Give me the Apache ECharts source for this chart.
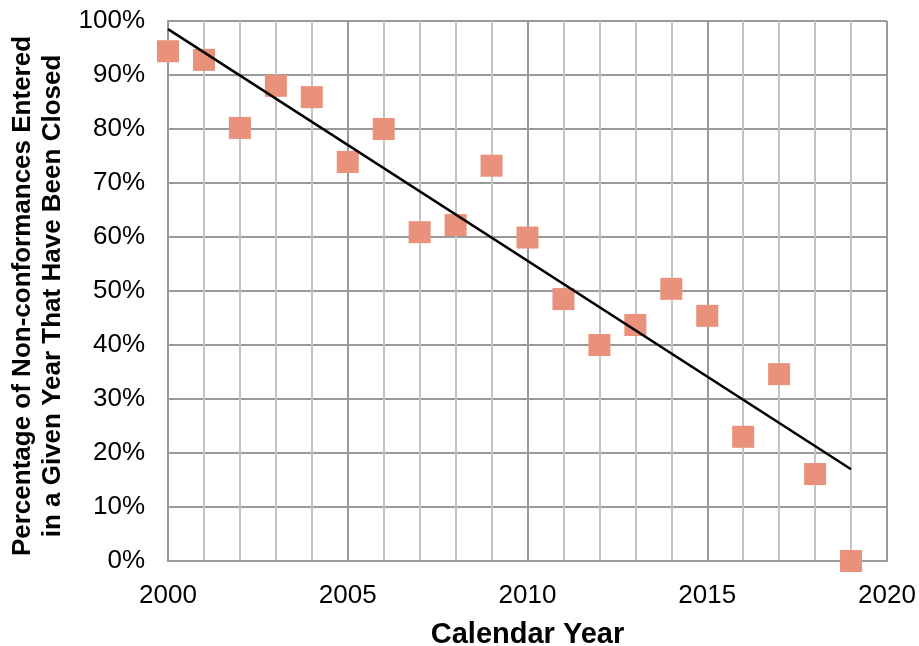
<!DOCTYPE html>
<html>
<head>
<meta charset="utf-8">
<script src="https://cdn.jsdelivr.net/npm/echarts@6/dist/echarts.min.js"></script>
<style>
  html, body { margin: 0; padding: 0; background: #fff; }
  #main { width: 919px; height: 646px; }
</style>
</head>
<body>
<div id="main"></div>
<script>
// values
var years = [2000, 2001, 2002, 2003, 2004, 2005, 2006, 2007, 2008, 2009,
             2010, 2011, 2012, 2013, 2014, 2015, 2016, 2017, 2018, 2019];
var closedPct = [94.4, 92.8, 80.2, 88.0, 85.9, 73.9, 80.0, 60.9, 62.2, 73.2,
                 59.9, 48.5, 40.0, 43.7, 50.4, 45.4, 23.0, 34.6, 16.1, 0.0];
var trendYears = [2000, 2019];
var trendPct = [98.5, 17.0];

var chartDom = document.getElementById('main');
var myChart = echarts.init(chartDom, null, { renderer: 'canvas' });

var font = 'Liberation Sans, Arial, sans-serif';

var option = {
  animation: false,
  grid: { left: 168, right: 32, top: 21, bottom: 85, outerBoundsMode: 'none', containLabel: false },
  xAxis: {
    type: 'value',
    min: 2000,
    max: 2020,
    interval: 5,
    name: 'Calendar Year',
    nameLocation: 'middle',
    nameGap: 59,
    nameTextStyle: { fontFamily: font, fontSize: 29, fontWeight: 'bold', color: '#000' },
    axisLine: { show: true, lineStyle: { color: '#999', width: 2 } },
    axisTick: { show: false },
    axisLabel: { fontFamily: font, fontSize: 26, color: '#000', margin: 22, formatter: function (v) { return String(v); } },
    splitLine: { show: true, lineStyle: { color: '#999', width: 2 } },
    minorTick: { show: false, splitNumber: 5 },
    minorSplitLine: { show: true, lineStyle: { color: '#c4c4c4', width: 2 } }
  },
  yAxis: {
    type: 'value',
    min: 0,
    max: 100,
    interval: 10,
    name: 'Percentage of Non-conformances Entered\nin a Given Year That Have Been Closed',
    nameLocation: 'middle',
    nameGap: 98,
    nameTextStyle: { fontFamily: font, fontSize: 26, fontWeight: 'bold', color: '#000', lineHeight: 30, padding: [0, 10, 0, 0] },
    axisLine: { show: true, lineStyle: { color: '#999', width: 2 } },
    axisTick: { show: false },
    axisLabel: { fontFamily: font, fontSize: 26, color: '#000', margin: 23, formatter: '{value}%' },
    splitLine: { show: true, lineStyle: { color: '#999', width: 2 } }
  },
  series: [
    {
      type: 'scatter',
      symbol: 'rect',
      symbolSize: 22,
      itemStyle: { color: '#E9917A', opacity: 1 },
      data: years.map(function (y, i) { return [y, closedPct[i]]; }),
      z: 2
    },
    {
      type: 'line',
      showSymbol: false,
      symbol: 'none',
      lineStyle: { color: '#000', width: 2.5 },
      data: trendYears.map(function (y, i) { return [y, trendPct[i]]; }),
      z: 3
    }
  ]
};
option && myChart.setOption(option);
</script>
</body>
</html>
